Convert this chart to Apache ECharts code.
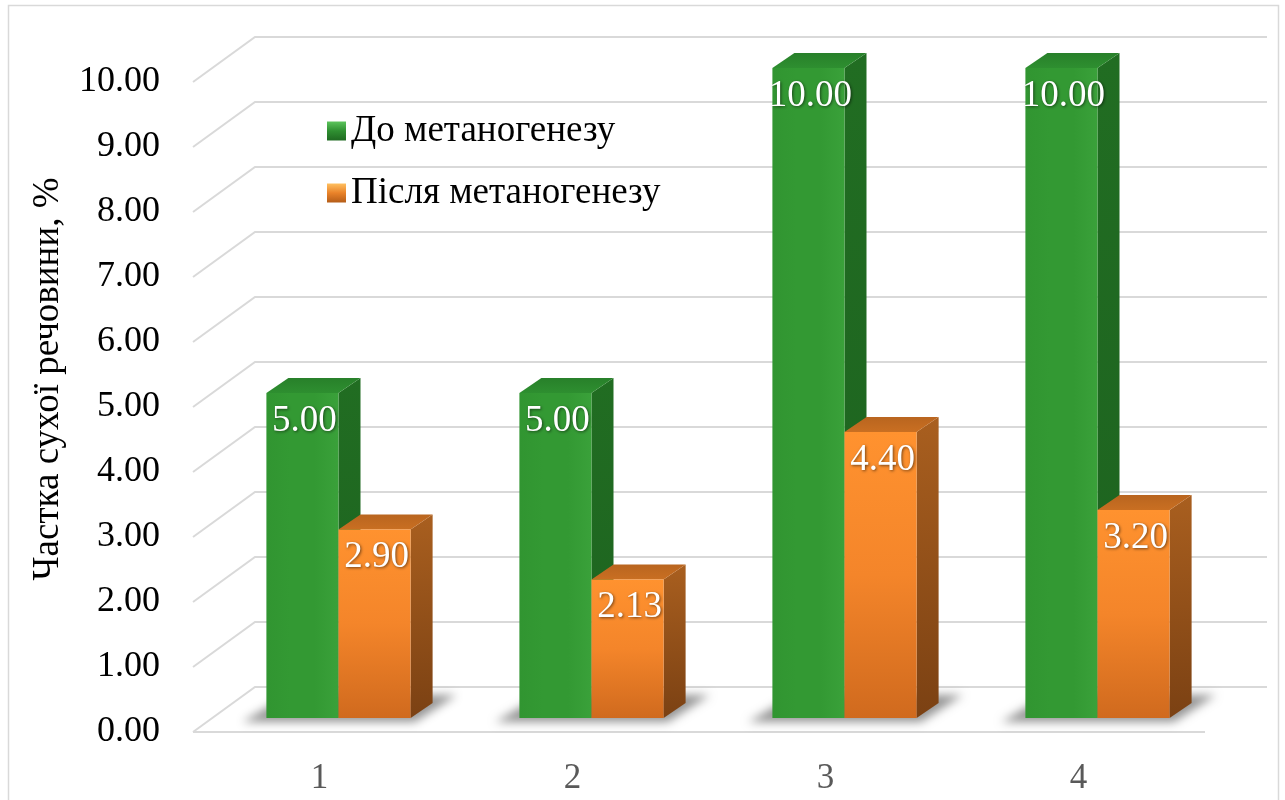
<!DOCTYPE html>
<html>
<head>
<meta charset="utf-8">
<script src="https://cdn.jsdelivr.net/npm/echarts@6/dist/echarts.min.js"></script>
<style>
  html, body { margin: 0; padding: 0; background: #ffffff; }
  #chart { width: 1285px; height: 800px; }
</style>
</head>
<body>
<div id="chart"></div>
<script>
// ---- data ----
const categories = ['1', '2', '3', '4'];
const seriesNames = ['До метаногенезу', 'Після метаногенезу'];
const beforeValues = [5.00, 5.00, 10.00, 10.00];
const afterValues = [2.90, 2.13, 4.40, 3.20];
const valueTicks = [0, 1, 2, 3, 4, 5, 6, 7, 8, 9, 10];
const axisTitle = 'Частка сухої речовини, %';

// ---- look ----
const FONT = '"Liberation Serif", "Times New Roman", serif';
const WALL = [62, -45];       // floor depth: front edge -> back wall
const ROW = [19, -14];        // bar row sits inside the floor
const DEPTH = [22, -15];      // bar depth
const BAR_RATIO = 0.285;      // bar width as share of a category band
const GRID_COLOR = '#d9d9d9';

function lin(x1, y1, x2, y2, stops) {
  return new echarts.graphic.LinearGradient(x1, y1, x2, y2,
    stops.map((c, i) => ({ offset: i / (stops.length - 1), color: c })));
}

const palettes = [
  {
    front: lin(0, 0, 1, 0, ['#319531', '#339933', '#339933', '#3aa13a']),
    top: lin(0, 1, 0, 0, ['#2e8f30', '#28802a']),
    side: lin(0, 0, 0, 1, ['#216d22', '#1d621f']),
    legend: lin(0, 0, 0, 1, ['#5cc45c', '#2f8f31', '#1f6a21'])
  },
  {
    front: lin(0, 0, 0, 1, ['#ff922f', '#f4852a', '#d06a1e']),
    top: lin(0, 1, 0, 0, ['#c96f22', '#b9651f']),
    side: lin(0, 0, 0, 1, ['#a95f1f', '#7b4113']),
    legend: lin(0, 0, 0, 1, ['#ffc060', '#e98229', '#b55d18'])
  }
];

function gridRenderer(params, api) {
  const v = api.value(1);
  const p = api.coord([0, v]);
  const cs = params.coordSys;
  const x0 = cs.x, x1 = cs.x + cs.width, y = p[1];
  const children = [{
    type: 'polyline',
    shape: { points: [[x0, y], [x0 + WALL[0], y + WALL[1]], [x1 + WALL[0], y + WALL[1]]] },
    style: { stroke: GRID_COLOR, lineWidth: 2, fill: null }
  }];
  if (v === 0) {
    children.push({
      type: 'line',
      shape: { x1: x0, y1: y, x2: x1, y2: y },
      style: { stroke: GRID_COLOR, lineWidth: 2 }
    });
  }
  return { type: 'group', children };
}

function barRenderer(idx) {
  const pal = palettes[idx];
  return function (params, api) {
    const cat = api.value(0), val = api.value(1);
    const base = api.coord([cat, 0]);
    const top = api.coord([cat, val]);
    const band = api.size([1, 0])[0];
    const w = band * BAR_RATIO;
    const cx = base[0] + ROW[0];
    const xL = idx === 0 ? cx - w : cx;
    const xR = xL + w;
    const y0 = base[1] + ROW[1];
    const yT = top[1] + ROW[1];
    const [dx, dy] = DEPTH;
    const children = [];

    if (idx === 0) {
      // soft floor shadow behind the pair, drawn as an offset canvas shadow
      const off = 4000;
      const pl = cx - w, pr = cx + w;
      children.push({
        type: 'polygon',
        shape: { points: [
          [pl - 24 - off, y0 + 4], [pr + 4 - off, y0 + 4],
          [pr + dx + 24 - off, y0 + dy - 8], [pl + dx - off, y0 + dy - 8]
        ] },
        style: { fill: '#000', shadowBlur: 10, shadowColor: 'rgba(0,0,0,0.42)', shadowOffsetX: off }
      });
    }

    children.push({
      type: 'polygon',
      shape: { points: [[xR, yT], [xR + dx, yT + dy], [xR + dx, y0 + dy], [xR, y0]] },
      style: { fill: pal.side }
    });
    children.push({
      type: 'polygon',
      shape: { points: [[xL, yT], [xL + dx, yT + dy], [xR + dx, yT + dy], [xR, yT]] },
      style: { fill: pal.top }
    });
    children.push({
      type: 'rect',
      shape: { x: xL, y: yT, width: w, height: y0 - yT },
      style: { fill: pal.front }
    });
    children.push({
      type: 'text',
      x: (xL + xR) / 2 + 2,
      y: yT + 28,
      style: {
        text: val.toFixed(2),
        fill: '#ffffff',
        font: '37px ' + FONT,
        align: 'center',
        verticalAlign: 'middle',
        textShadowColor: 'rgba(0,0,0,0.55)',
        textShadowBlur: 3,
        textShadowOffsetX: 1,
        textShadowOffsetY: 1
      }
    });
    return { type: 'group', children };
  };
}

const chart = echarts.init(document.getElementById('chart'), null, { renderer: 'canvas' });

chart.setOption({
  animation: false,
  backgroundColor: '#ffffff',
  grid: { left: 193, right: 80, top: 82, bottom: 68 },
  xAxis: {
    type: 'category',
    data: categories,
    axisLine: { show: false },
    axisTick: { show: false },
    axisLabel: { margin: 29, fontSize: 35, fontFamily: FONT, color: '#595959' }
  },
  yAxis: {
    type: 'value',
    min: 0,
    max: 10,
    interval: 1,
    axisLine: { show: false },
    axisTick: { show: false },
    splitLine: { show: false },
    axisLabel: {
      margin: 33, fontSize: 36, fontFamily: FONT, color: '#000000',
      formatter: v => v.toFixed(2)
    }
  },
  legend: {
    orient: 'vertical',
    left: 322,
    top: 106,
    icon: 'rect',
    itemWidth: 19,
    itemHeight: 19,
    itemGap: 22,
    selectedMode: false,
    textStyle: { fontSize: 37, fontFamily: FONT, color: '#000000', lineHeight: 40 },
    data: seriesNames.map((n, i) => ({ name: n, itemStyle: { color: palettes[i].legend } }))
  },
  graphic: [
    {
      type: 'rect',
      silent: true,
      shape: { x: 8.5, y: 5.5, width: 1270, height: 800 },
      style: { fill: null, stroke: GRID_COLOR, lineWidth: 1.5 }
    },
    {
      type: 'text',
      x: 48,
      y: 379,
      rotation: Math.PI / 2,
      silent: true,
      style: { text: axisTitle, font: '37px ' + FONT, fill: '#000000', align: 'center', verticalAlign: 'middle' }
    }
  ],
  series: [
    {
      type: 'custom',
      name: 'grid',
      silent: true,
      z: 1,
      renderItem: gridRenderer,
      encode: { x: 0, y: 1 },
      data: valueTicks.map(v => [0, v])
    },
    {
      type: 'custom',
      name: seriesNames[0],
      silent: true,
      z: 2,
      itemStyle: { color: '#339933' },
      renderItem: barRenderer(0),
      encode: { x: 0, y: 1 },
      data: beforeValues.map((v, i) => [i, v])
    },
    {
      type: 'custom',
      name: seriesNames[1],
      silent: true,
      z: 3,
      itemStyle: { color: '#f4852a' },
      renderItem: barRenderer(1),
      encode: { x: 0, y: 1 },
      data: afterValues.map((v, i) => [i, v])
    }
  ]
});
</script>
</body>
</html>
